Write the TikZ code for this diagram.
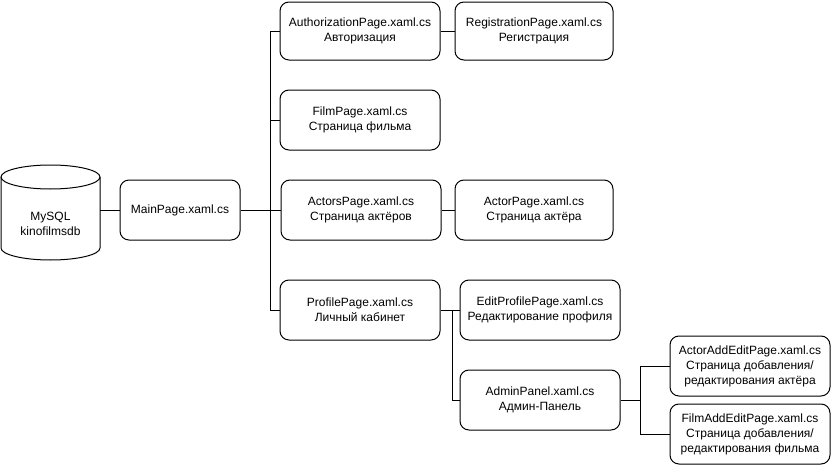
\documentclass[tikz,border=0pt]{standalone}
\usepackage{fontspec}
\setmainfont{Liberation Sans}
\begin{document}
\begin{tikzpicture}[x=1pt,y=-1pt,
  page/.style={draw=black, line width=1pt, rounded corners=9pt, fill=white,
    minimum width=160pt, minimum height=60pt, inner sep=0pt, align=center,
    font=\fontsize{12pt}{15pt}\selectfont},
  link/.style={draw=black, line width=1pt}]
\useasboundingbox (0,0) rectangle (831,466);
% database cylinder
\node (db) [minimum width=99pt, minimum height=95pt, inner sep=0pt] at (50.5,212.5) {};
\draw[line width=1pt, fill=white] (1,177) -- (1,248) arc[start angle=180, end angle=0, x radius=49.5, y radius=12] -- (100,177);
\draw[line width=1pt] (50.5,177) ellipse[x radius=49.5, y radius=12];
\node (dbtext) [align=center, font=\fontsize{12pt}{15pt}\selectfont] at (50.5,224) {MySQL\\kinofilmsdb};
% pages
\node (main) [page, minimum width=120pt] at (180,210) {MainPage.xaml.cs};
\node (auth) [page, minimum height=58pt] at (360,31) {AuthorizationPage.xaml.cs\\Авторизация};
\node (reg) [page, minimum width=158pt, minimum height=58pt] at (534,31) {RegistrationPage.xaml.cs\\Регистрация};
\node (film) [page] at (360,120) {FilmPage.xaml.cs\\Страница фильма};
\node (actors) [page] at (361,210) {ActorsPage.xaml.cs\\Страница актёров};
\node (actor) [page, minimum width=158pt] at (534,210) {ActorPage.xaml.cs\\Страница актёра};
\node (profile) [page] at (360,310) {ProfilePage.xaml.cs\\Личный кабинет};
\node (edit) [page] at (540,310) {EditProfilePage.xaml.cs\\Редактирование профиля};
\node (admin) [page] at (540,400) {AdminPanel.xaml.cs\\Админ-Панель};
\node (actoradd) [page] at (750,366) {ActorAddEditPage.xaml.cs\\Страница добавления/\\редактирования актёра};
\node (filmadd) [page] at (750,434) {FilmAddEditPage.xaml.cs\\Страница добавления/\\редактирования фильма};
% junction coordinates
\coordinate (t) at (270,0);
\coordinate (p) at (452,0);
\coordinate (a) at (640,0);
% connectors
\draw[link] (db.east |- main.west) -- (main.west);
\draw[link] (main.east) -- (main.east -| t);
\draw[link] (auth.west) -- (auth.west -| t) |- (profile.west);
\draw[link] (film.west) -- (film.west -| t);
\draw[link] (actors.west) -- (actors.west -| t);
\draw[link] (auth.east) -- (reg.west);
\draw[link] (actors.east) -- (actor.west);
\draw[link] (profile.east) -- (edit.west);
\draw[link] (profile.east -| p) |- (admin.west);
\draw[link] (admin.east) -- (admin.east -| a);
\draw[link] (actoradd.west) -- (actoradd.west -| a) |- (filmadd.west);
\end{tikzpicture}
\end{document}
